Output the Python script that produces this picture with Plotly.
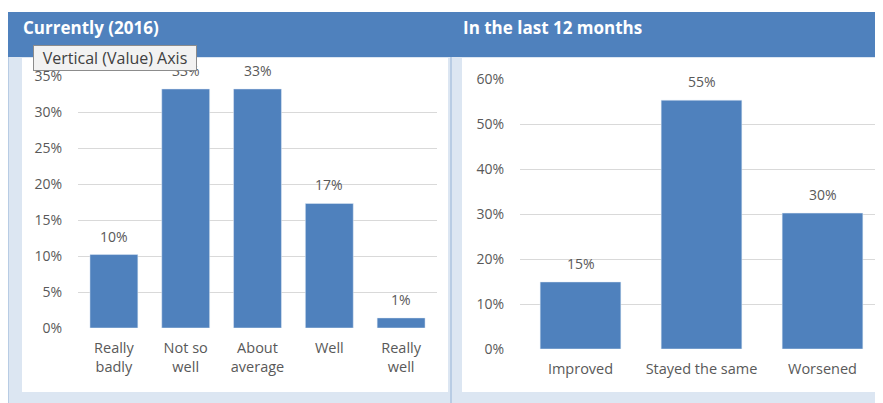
"""Two-panel survey bar chart: currently vs last 12 months."""

import plotly.graph_objects as go

W, H = 883, 403
OFF = 8  # the page puts the plot 8px in from the top-left corner

BAR_BLUE = "#4f81bd"
HEAD_BLUE = "#4f81bd"
PALE_BLUE = "#dce6f2"
GRID = "#d9d9d9"
TEXT = "#595959"
FONT = "Open Sans"

# left panel
current_labels = ["Really<br>badly", "Not so<br>well", "About<br>average", "Well", "Really<br>well"]
current_values = [0.102, 0.332, 0.332, 0.173, 0.014]
current_ticks = [0, 0.05, 0.10, 0.15, 0.20, 0.25, 0.30, 0.35]

# right panel
last12_labels = ["Improved", "Stayed the same", "Worsened"]
last12_values = [0.149, 0.553, 0.302]
last12_ticks = [0, 0.10, 0.20, 0.30, 0.40, 0.50, 0.60]


def px_x(x):
    return max(x - OFF, 0) / W


def px_y(y):
    return 1 - max(y - OFF, 0) / H


def rect(x0, y0, x1, y1, color):
    return dict(type="rect", xref="paper", yref="paper", layer="below",
                x0=px_x(x0), x1=px_x(x1), y0=px_y(y1), y1=px_y(y0),
                fillcolor=color, line=dict(width=0))


def value_labels(labels, values, xref, yref):
    return [dict(x=lab, y=val, xref=xref, yref=yref, text=f"{val:.0%}",
                 showarrow=False, yanchor="bottom", yshift=7,
                 font=dict(size=14, color=TEXT, family=FONT))
            for lab, val in zip(labels, values)]


fig = go.Figure()
fig.add_trace(go.Bar(x=current_labels, y=current_values, marker_color=BAR_BLUE,
                     xaxis="x", yaxis="y"))
fig.add_trace(go.Bar(x=last12_labels, y=last12_values, marker_color=BAR_BLUE,
                     xaxis="x2", yaxis="y2"))

yaxis_common = dict(tickformat=".0%", showgrid=True, gridcolor=GRID, gridwidth=1,
                    zeroline=False, showline=False, ticks="outside", ticklen=12,
                    tickcolor="rgba(0,0,0,0)", tickfont=dict(size=14, color=TEXT),
                    automargin=False)
xaxis_common = dict(showgrid=False, showline=False, ticks="outside", ticklen=7,
                    tickcolor="rgba(0,0,0,0)", tickfont=dict(size=14.5, color=TEXT),
                    automargin=False)

shapes = [
    rect(7, 57, W + OFF, H + OFF, PALE_BLUE),
    rect(7, 12, W + OFF, 57, HEAD_BLUE),
    rect(7, 57, 9, H + OFF, "#b8cce4"),
    rect(22, 58, 448, 392, "white"),
    rect(450, 57, 452, H + OFF, "#b8cce4"),
    rect(462, 58, W + OFF, 392, "white"),
]

annotations = value_labels(current_labels, current_values, "x", "y")
annotations += value_labels(last12_labels, last12_values, "x2", "y2")
annotations += [
    dict(text="<b>Currently (2016)</b>", x=px_x(21), y=px_y(27), xref="paper", yref="paper",
         xanchor="left", yanchor="middle", showarrow=False,
         font=dict(size=17, color="white", family=FONT)),
    dict(text="<b>In the last 12 months</b>", x=px_x(461), y=px_y(27), xref="paper", yref="paper",
         xanchor="left", yanchor="middle", showarrow=False,
         font=dict(size=17, color="white", family=FONT)),
    # tooltip visible in the source screenshot
    dict(text="Vertical (Value) Axis", x=px_x(33), y=px_y(57.5), xref="paper", yref="paper",
         xanchor="left", yanchor="middle", showarrow=False, width=158, height=20,
         align="center", bgcolor="#f2f2f2", bordercolor="#8c8c8c", borderwidth=1,
         borderpad=2, font=dict(size=16, color="#404040", family=FONT)),
]

fig.update_layout(
    width=W, height=H,
    margin=dict(l=0, r=0, t=0, b=0, autoexpand=False),
    paper_bgcolor="white",
    plot_bgcolor="rgba(0,0,0,0)",
    font=dict(family=FONT, color=TEXT),
    showlegend=False,
    bargap=0.333,
    shapes=shapes,
    annotations=annotations,
    xaxis=dict(domain=[px_x(78), px_x(437)], anchor="y", **xaxis_common),
    yaxis=dict(domain=[px_y(328), px_y(76)], anchor="x", range=[0, 0.35],
               tickvals=current_ticks, **yaxis_common),
    xaxis2=dict(domain=[px_x(520), px_x(883)], anchor="y2", **xaxis_common),
    yaxis2=dict(domain=[px_y(349), px_y(79)], anchor="x2", range=[0, 0.6],
                tickvals=last12_ticks, **yaxis_common),
)

fig.write_html("out.html")
